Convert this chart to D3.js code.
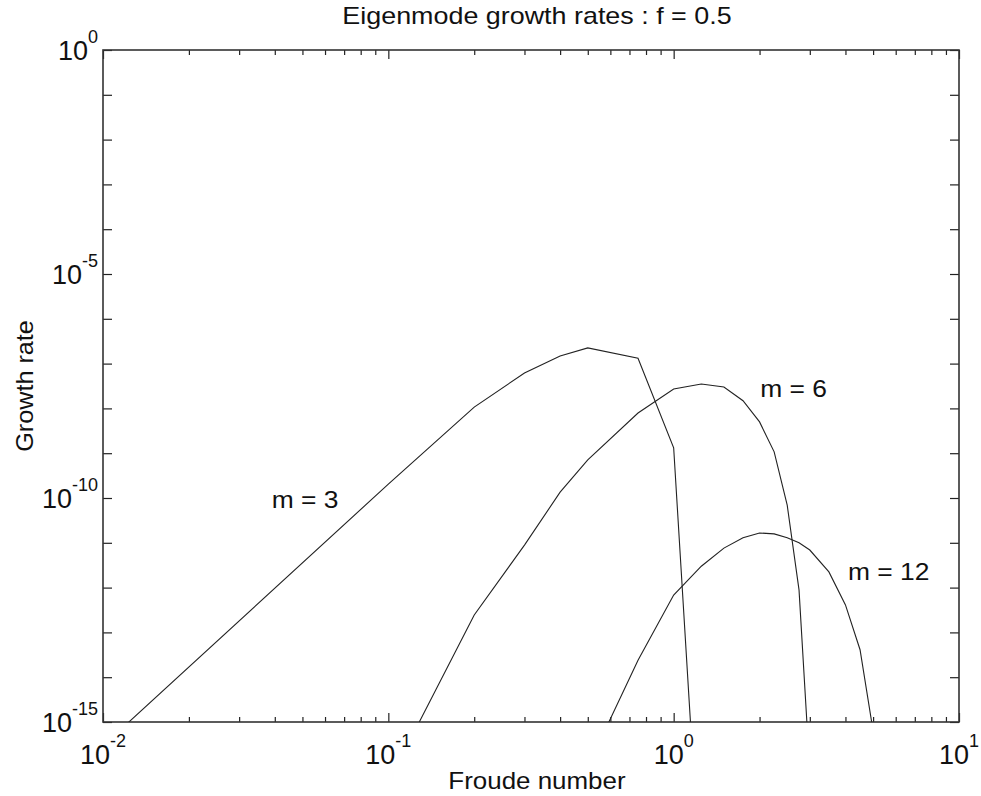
<!DOCTYPE html>
<html>
<head>
<meta charset="utf-8">
<script src="https://cdn.jsdelivr.net/npm/d3@7"></script>
<style>
  body { margin: 0; background: #fff; }
  svg text { font-family: "Liberation Sans", Arial, Helvetica, sans-serif; fill: #111; }
</style>
</head>
<body>
<div id="chart"></div>
<script>
// values
var froude3 = [0.01, 0.1, 0.2, 0.3, 0.4, 0.5, 0.75, 1.0, 1.25];
var growth3 = [2.95e-16, 2.04e-10, 1.07e-8, 6.17e-8, 1.48e-7, 2.24e-7, 1.32e-7, 1.32e-9, 1.1e-19];

var froude6 = [0.1, 0.2, 0.3, 0.4, 0.5, 0.75, 1.0, 1.25, 1.5, 1.75, 2.0, 2.25, 2.5, 2.75, 3.0];
var growth6 = [4.5e-17, 2.45e-13, 8.9e-12, 1.35e-10, 7.1e-10, 7.9e-9, 2.7e-8, 3.5e-8, 3.0e-8, 1.48e-8, 5.0e-9, 1.07e-9, 6.9e-11, 8.9e-13, 7.9e-17];

var froude12 = [0.5, 0.75, 1.0, 1.25, 1.5, 1.75, 2.0, 2.25, 2.5, 2.75, 3.0, 3.5, 4.0, 4.5, 5.0];
var growth12 = [1e-16, 2.4e-14, 6.8e-13, 3.0e-12, 7.6e-12, 1.29e-11, 1.66e-11, 1.58e-11, 1.29e-11, 1.0e-11, 6.9e-12, 2.24e-12, 4.1e-13, 4.1e-14, 6.3e-16];

var xTickExp = [-2, -1, 0, 1];
var yTickExp = [0, -5, -10, -15];

var curveLabels = [
  {text: "m = 3", F: 0.039, G: 6e-11},
  {text: "m = 6", F: 2.01, G: 1.8e-8},
  {text: "m = 12", F: 4.08, G: 1.48e-12}
];

// dimensions
var W = 981, H = 796;
var margin = {top: 50, right: 22, bottom: 74, left: 103},
    width = W - margin.left - margin.right,
    height = H - margin.top - margin.bottom;

var svg = d3.select("#chart")
  .append("svg")
    .attr("width", W)
    .attr("height", H)
  .append("g")
    .attr("transform", "translate(" + margin.left + "," + margin.top + ")");

var xScale = d3.scaleLog().domain([1e-2, 1e1]).range([0, width]);
var yScale = d3.scaleLog().domain([1e-15, 1e0]).range([height, 0]);

svg.append("clipPath").attr("id", "clip")
  .append("rect").attr("width", width).attr("height", height);

// the scanned lettering is a bit wider than plain Arial
function widen(sel, f) {
  sel.each(function() {
    var w = this.getComputedTextLength();
    d3.select(this).attr("textLength", w * f).attr("lengthAdjust", "spacingAndGlyphs");
  });
}

// minor ticks on x (2..9 per decade)
var xMinor = [];
for (var e = -2; e < 1; e++) {
  for (var k = 2; k <= 9; k++) xMinor.push(k * Math.pow(10, e));
}
var xMajor = xTickExp.map(function(e) { return Math.pow(10, e); });
var yMajor = d3.range(-15, 1).map(function(e) { return Math.pow(10, e); });

function styleAxis(g) {
  g.select(".domain").remove();
  g.selectAll("line").attr("stroke", "#222").attr("stroke-width", 1.2);
}

svg.append("g").attr("transform", "translate(0," + height + ")")
  .call(d3.axisBottom(xScale).tickValues(xMajor).tickSize(-9).tickFormat(""))
  .call(styleAxis);
svg.append("g").attr("transform", "translate(0," + height + ")")
  .call(d3.axisBottom(xScale).tickValues(xMinor).tickSize(-5).tickFormat(""))
  .call(styleAxis);
svg.append("g")
  .call(d3.axisTop(xScale).tickValues(xMajor).tickSize(-9).tickFormat(""))
  .call(styleAxis);
svg.append("g")
  .call(d3.axisTop(xScale).tickValues(xMinor).tickSize(-5).tickFormat(""))
  .call(styleAxis);
svg.append("g")
  .call(d3.axisLeft(yScale).tickValues(yMajor).tickSize(-9).tickFormat(""))
  .call(styleAxis);
svg.append("g").attr("transform", "translate(" + width + ",0)")
  .call(d3.axisRight(yScale).tickValues(yMajor).tickSize(-9).tickFormat(""))
  .call(styleAxis);

// frame
svg.append("rect")
  .attr("width", width)
  .attr("height", height)
  .attr("fill", "none")
  .attr("stroke", "#333")
  .attr("stroke-width", 1.6);

// tick labels
xTickExp.forEach(function(e) {
  var t = svg.append("text")
    .attr("x", xScale(Math.pow(10, e)))
    .attr("y", height + 42)
    .style("text-anchor", "middle");
  t.append("tspan").style("font-size", "27px").text("10");
  t.append("tspan").style("font-size", "18px").attr("dy", -17).text(e);
});
yTickExp.forEach(function(e) {
  var t = svg.append("text")
    .attr("x", -5)
    .attr("y", yScale(Math.pow(10, e)) + 10)
    .style("text-anchor", "end");
  t.append("tspan").style("font-size", "27px").text("10");
  t.append("tspan").style("font-size", "18px").attr("dy", -17).text(e);
});

// curves
var line = d3.line()
  .x(function(d) { return xScale(d[0]); })
  .y(function(d) { return yScale(d[1]); });

var series = [[froude3, growth3], [froude6, growth6], [froude12, growth12]];
series.forEach(function(s) {
  svg.append("path")
    .datum(d3.zip(s[0], s[1]))
    .attr("clip-path", "url(#clip)")
    .attr("fill", "none")
    .attr("stroke", "#222")
    .attr("stroke-width", 1.1)
    .attr("d", line);
});

svg.selectAll(".clabel")
  .data(curveLabels)
  .enter().append("text")
    .attr("class", "clabel")
    .attr("x", function(c) { return xScale(c.F); })
    .attr("y", function(c) { return yScale(c.G); })
    .style("font-size", "24px")
    .text(function(c) { return c.text; })
    .call(widen, 1.1);

// title and axis labels
svg.append("text")
  .attr("x", width / 2 + 6)
  .attr("y", -26)
  .style("text-anchor", "middle")
  .style("font-size", "24px")
  .text("Eigenmode growth rates : f = 0.5")
  .call(widen, 1.12);

svg.append("text")
  .attr("x", width / 2 + 6)
  .attr("y", height + 67)
  .style("text-anchor", "middle")
  .style("font-size", "24px")
  .text("Froude number")
  .call(widen, 1.08);

svg.append("text")
  .attr("transform", "rotate(-90)")
  .attr("x", -height / 2)
  .attr("y", -70)
  .style("text-anchor", "middle")
  .style("font-size", "24px")
  .text("Growth rate")
  .call(widen, 1.05);
</script>
</body>
</html>
